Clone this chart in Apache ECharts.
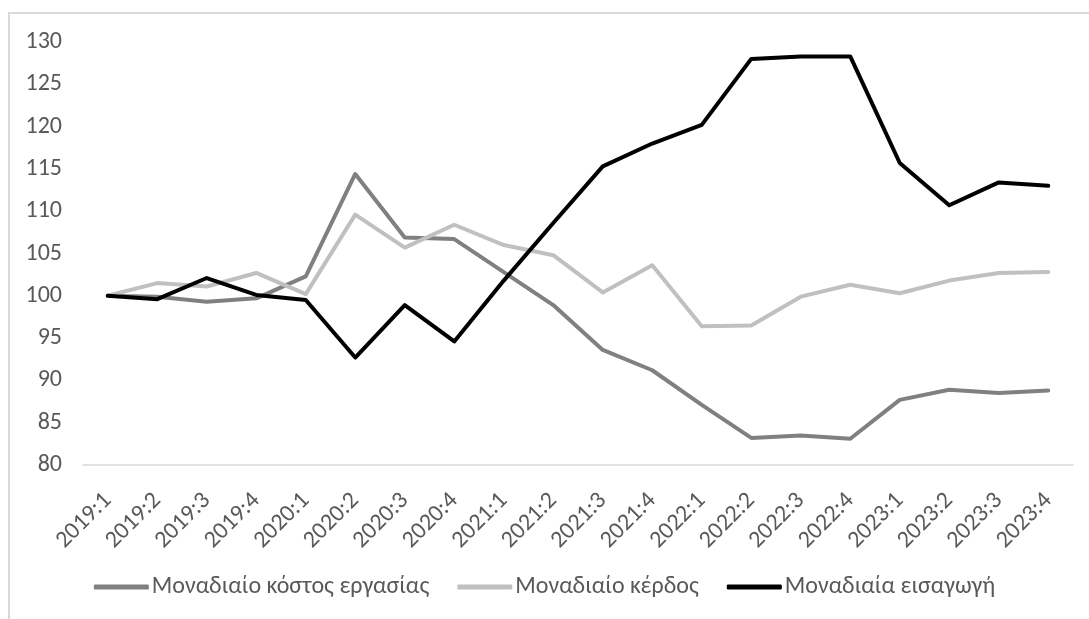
<!DOCTYPE html>
<html>
<head>
<meta charset="utf-8">
<script src="https://cdn.jsdelivr.net/npm/echarts@6/dist/echarts.min.js"></script>
<style>
  html, body { margin: 0; padding: 0; background: #fff; overflow: hidden; }
  #frame {
    position: absolute; left: 8px; top: 12px; width: 1200px; height: 700px;
    border-top: 2px solid #d9d9d9; border-left: 2px solid #d9d9d9;
  }
  #chart { position: absolute; left: 0; top: 0; width: 1089px; height: 619px; }
</style>
</head>
<body>
<div id="frame"></div>
<div id="chart"></div>
<script>
// quarters
const categories = [
  '2019:1', '2019:2', '2019:3', '2019:4',
  '2020:1', '2020:2', '2020:3', '2020:4',
  '2021:1', '2021:2', '2021:3', '2021:4',
  '2022:1', '2022:2', '2022:3', '2022:4',
  '2023:1', '2023:2', '2023:3', '2023:4'
];
const laborCost = [100, 99.9, 99.3, 99.7, 102.3, 114.4, 106.9, 106.7, 102.8, 98.9,
  93.6, 91.2, 87.1, 83.2, 83.5, 83.1, 87.7, 88.9, 88.5, 88.8];
const profit = [100, 101.5, 101.1, 102.7, 100.2, 109.6, 105.7, 108.4, 106.0, 104.8,
  100.4, 103.6, 96.4, 96.5, 99.9, 101.3, 100.3, 101.8, 102.7, 102.8];
const imports = [100, 99.6, 102.1, 100.1, 99.5, 92.7, 98.9, 94.6, 101.8, 108.6,
  115.3, 118.0, 120.2, 128.0, 128.3, 128.3, 115.7, 110.7, 113.4, 113.0];
const seriesNames = ['Μοναδιαίο κόστος εργασίας', 'Μοναδιαίο κέρδος', 'Μοναδιαία εισαγωγή'];

const font = "Carlito, 'Noto Sans', sans-serif";
const colors = ['#808080', '#c0c0c0', '#000000'];

const chart = echarts.init(document.getElementById('chart'));

function lineSeries (name, data, color) {
  return {
    name: name,
    type: 'line',
    data: data,
    symbol: 'none',
    lineStyle: { color: color, width: 4, cap: 'round', join: 'round' },
    itemStyle: { color: color },
    animation: false
  };
}

chart.setOption({
  backgroundColor: 'transparent',
  animation: false,
  grid: { left: 83, right: 16, top: 42, bottom: 154 },
  legend: {
    bottom: 15,
    left: 'center',
    icon: 'roundRect',
    itemWidth: 55,
    itemHeight: 5,
    itemGap: 28,
    textStyle: { fontFamily: font, fontSize: 24, color: '#595959', padding: [0, 0, 0, -2] },
    data: seriesNames
  },
  xAxis: {
    type: 'category',
    data: categories,
    boundaryGap: true,
    axisLine: { lineStyle: { color: '#d9d9d9', width: 1.5 } },
    axisTick: { show: false },
    axisLabel: {
      rotate: 45,
      interval: 0,
      margin: 32,
      fontFamily: font,
      fontSize: 24,
      color: '#595959'
    }
  },
  yAxis: {
    type: 'value',
    min: 80,
    max: 130,
    interval: 5,
    splitLine: { show: false },
    axisLine: { show: false },
    axisTick: { show: false },
    axisLabel: { margin: 21, fontFamily: font, fontSize: 24, color: '#595959' }
  },
  series: [
    lineSeries(seriesNames[0], laborCost, colors[0]),
    lineSeries(seriesNames[1], profit, colors[1]),
    lineSeries(seriesNames[2], imports, colors[2])
  ]
});
</script>
</body>
</html>
